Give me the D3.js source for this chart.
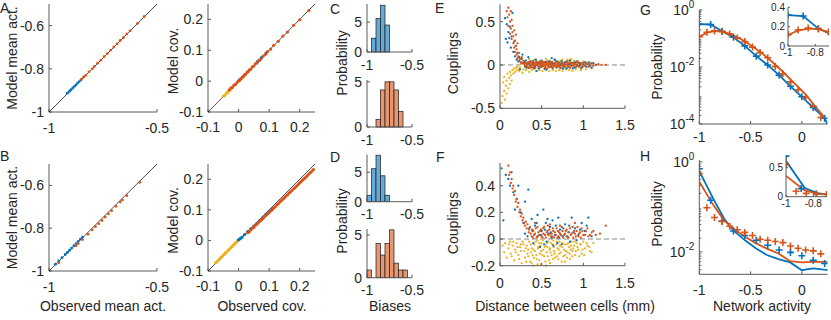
<!DOCTYPE html>
<html>
<head>
<meta charset="UTF-8">
<script src="https://d3js.org/d3.v7.min.js"></script>
<style>
  body { margin: 0; background: #fff; }
  svg text { font-family: 'Liberation Sans', Arial, sans-serif; fill: #262626; }
</style>
</head>
<body>
<svg id="fig" width="831" height="320"></svg>
<script>
const BLUE = "#0072BD", ORANGE = "#D95319", YELLOW = "#EDB120";
const HBLUE = "#66AAD7", HORANGE = "#E8966F";

// ---- A / B: mean activity, [observed, model]
const meanA_blue = [[-0.915,-0.913],[-0.905,-0.904],[-0.898,-0.897],[-0.89,-0.889],[-0.882,-0.881],[-0.875,-0.874],[-0.868,-0.866],[-0.86,-0.859],[-0.852,-0.851]];
const meanA_orange = [[-0.85,-0.849],[-0.84,-0.839],[-0.83,-0.83],[-0.815,-0.814],[-0.8,-0.8],[-0.79,-0.789],[-0.775,-0.774],[-0.76,-0.76],[-0.745,-0.744],[-0.73,-0.73],[-0.715,-0.714],[-0.7,-0.699],[-0.685,-0.685],[-0.67,-0.669],[-0.655,-0.655],[-0.64,-0.639],[-0.625,-0.624],[-0.59,-0.59],[-0.56,-0.559]];
const meanB_blue = [[-0.97,-0.968],[-0.955,-0.953],[-0.94,-0.938],[-0.925,-0.923],[-0.915,-0.913],[-0.905,-0.903],[-0.895,-0.893],[-0.885,-0.882],[-0.875,-0.872],[-0.865,-0.862],[-0.855,-0.851],[-0.845,-0.842]];
const meanB_orange = [[-0.955,-0.962],[-0.875,-0.882],[-0.865,-0.872],[-0.845,-0.853],[-0.82,-0.828],[-0.8,-0.808],[-0.785,-0.793],[-0.77,-0.779],[-0.755,-0.764],[-0.74,-0.748],[-0.725,-0.733],[-0.71,-0.719],[-0.69,-0.698],[-0.67,-0.678],[-0.66,-0.668],[-0.64,-0.648],[-0.58,-0.586]];

// ---- A / B: covariances, [observed, model]
const covA_yellow = [[-0.05,-0.049],[-0.045,-0.046],[-0.04,-0.039],[-0.036,-0.037],[-0.032,-0.031],[-0.028,-0.029],[-0.024,-0.023]];
const covA_blue = [[0.003,0.004],[0.062,0.063],[0.068,0.067],[0.075,0.076],[0.09,0.091]];
const covA_orange = [[-0.03,-0.028],[-0.025,-0.022],[-0.02,-0.021],[-0.015,-0.013],[-0.01,-0.011],[-0.005,-0.004],[0,0.001],[0.003,0.002],[0.006,0.007],[0.01,0.009],[0.013,0.014],[0.016,0.015],[0.02,0.021],[0.024,0.023],[0.028,0.029],[0.032,0.031],[0.036,0.037],[0.04,0.039],[0.045,0.046],[0.05,0.049],[0.055,0.056],[0.06,0.059],[0.066,0.067],[0.072,0.071],[0.08,0.081],[0.088,0.087],[0.095,0.096],[0.105,0.104],[0.115,0.116],[0.13,0.129],[0.145,0.146],[0.16,0.159],[0.18,0.181],[0.2,0.199],[0.23,0.229]];
const covB_yellow = [[-0.075,-0.073],[-0.07,-0.069],[-0.066,-0.064],[-0.062,-0.061],[-0.058,-0.056],[-0.054,-0.053],[-0.05,-0.048],[-0.046,-0.045],[-0.042,-0.04],[-0.038,-0.037],[-0.034,-0.032],[-0.03,-0.029],[-0.026,-0.024],[-0.022,-0.021],[-0.018,-0.016],[-0.014,-0.013],[-0.01,-0.008],[-0.006,-0.005],[-0.002,0]];
const covB_blue = [[0,0.002],[0.004,0.005],[0.008,0.008],[0.012,0.011],[0.02,0.019],[0.03,0.029],[0.04,0.038],[0.05,0.047],[0.06,0.056],[0.07,0.066],[0.08,0.076],[0.09,0.086],[0.1,0.095],[0.11,0.104]];
const covB_orange = [[0.03,0.025],[0.035,0.028],[0.04,0.034],[0.045,0.04],[0.05,0.043],[0.055,0.05],[0.06,0.053],[0.065,0.059],[0.07,0.063],[0.075,0.068],[0.08,0.072],[0.085,0.078],[0.09,0.082],[0.095,0.087],[0.1,0.091],[0.105,0.097],[0.11,0.1],[0.115,0.106],[0.12,0.11],[0.125,0.116],[0.13,0.12],[0.135,0.126],[0.14,0.13],[0.145,0.135],[0.15,0.14],[0.155,0.145],[0.16,0.149],[0.165,0.155],[0.17,0.159],[0.175,0.164],[0.18,0.169],[0.185,0.173],[0.19,0.178],[0.195,0.183],[0.2,0.188],[0.205,0.193],[0.21,0.198],[0.215,0.202],[0.22,0.207],[0.225,0.212],[0.23,0.217],[0.235,0.222],[0.24,0.227],[0.245,0.232]];

// ---- C / D: bias histograms (bin edges, densities)
const histC_blue_edges = [-0.95,-0.9,-0.85,-0.8,-0.75];
const histC_blue = [2.3,5.6,7.8,4.5];
const histC_orange_edges = [-0.9,-0.85,-0.8,-0.75,-0.7,-0.65,-0.6];
const histC_orange = [0.85,4.1,5.0,5.0,4.1,1.7];
const histD_blue_edges = [-1,-0.95,-0.9,-0.85,-0.8,-0.75];
const histD_blue = [1.1,5.6,7.9,4.4,1.1];
const histD_orange_edges = [-1,-0.95,-0.9,-0.85,-0.8,-0.75,-0.7,-0.65,-0.6,-0.55];
const histD_orange = [0.9,0,4.0,2.65,4.0,5.6,1.7,0.9,0.9];

// ---- E / F: couplings vs distance, [distance mm, coupling]
const eBlue = [[0.06,0.54],[0.07,0.3],[0.08,0.47],[0.09,0.26],[0.1,0.38],[0.11,0.31],[0.12,0.44],[0.13,0.2],[0.14,0.33],[0.15,0.6],[0.16,0.15],[0.17,0.27],[0.18,0.1],[0.19,0.22],[0.2,0.06],[0.21,0.14],[0.22,0.04],[0.23,0.09],[0.25,0.03],[0.26,0.07],[0.28,0.02],[0.3,-0.02],[0.31,0.05],[0.33,0.01],[0.35,-0.03],[0.36,0.04],[0.38,0],[0.4,0.03],[0.42,-0.02],[0.43,0.06],[0.45,0.01],[0.47,-0.04],[0.49,0.02],[0.5,0.05],[0.52,-0.01],[0.54,0.03],[0.56,-0.05],[0.57,0.01],[0.59,0.04],[0.61,-0.02],[0.63,0.02],[0.65,-0.01],[0.66,0.06],[0.68,-0.03],[0.7,0.02],[0.72,0],[0.74,0.04],[0.76,-0.02],[0.78,0.03],[0.8,-0.04],[0.82,0.01],[0.84,0.05],[0.86,-0.01],[0.88,0.02],[0.9,-0.03],[0.93,0.04],[0.96,0],[0.99,-0.02],[1.02,0.03],[1.05,0.01],[1.08,-0.01],[1.12,0.02],[0.27,0.12],[0.34,0.09],[0.44,-0.07],[0.62,0.08],[0.24,-0.05]];
const eBlueBand = [[0.295,0.03],[0.32,-0.03],[0.345,0.02],[0.37,-0.01],[0.395,0.045],[0.41,-0.04],[0.435,0],[0.46,0.03],[0.485,-0.02],[0.51,0.01],[0.535,-0.045],[0.555,0.035],[0.58,-0.01],[0.605,0.02],[0.63,-0.035],[0.655,0.01],[0.68,0.04],[0.705,-0.02],[0.73,0.015],[0.755,-0.045],[0.775,0.005],[0.8,0.04],[0.825,-0.025],[0.85,0.015],[0.875,-0.04],[0.9,0.03],[0.925,-0.01],[0.95,0.02],[0.975,-0.035],[1,0.01],[1.035,-0.02],[1.07,0.03],[1.1,-0.03],[1.15,0]];
const eOrange = [[0.08,0.62],[0.09,0.55],[0.1,0.66],[0.1,0.45],[0.11,0.58],[0.12,0.5],[0.12,0.36],[0.13,0.62],[0.13,0.42],[0.14,0.52],[0.14,0.3],[0.15,0.45],[0.15,0.38],[0.16,0.33],[0.16,0.25],[0.17,0.4],[0.17,0.2],[0.18,0.28],[0.18,0.15],[0.19,0.22],[0.19,0.35],[0.2,0.12],[0.2,0.18],[0.21,0.08],[0.21,0.25],[0.22,0.1],[0.23,0.05],[0.23,0.14],[0.24,0.07],[0.25,0.03],[0.26,0.09],[0.27,0.02],[0.28,0.05],[0.29,0.01],[0.3,-0.01],[0.32,0.02],[0.33,-0.02],[0.34,0.03],[0.36,0],[0.37,-0.03],[0.38,0.02],[0.4,0.01],[0.41,-0.01],[0.43,0.03],[0.44,0],[0.46,-0.02],[0.47,0.02],[0.48,0.04],[0.5,-0.01],[0.51,0.01],[0.53,0.03],[0.54,-0.03],[0.55,0],[0.57,0.02],[0.58,-0.01],[0.6,0.01],[0.61,0.03],[0.62,-0.02],[0.64,0],[0.66,0.02],[0.67,-0.01],[0.69,0.01],[0.71,0.03],[0.72,-0.02],[0.74,0],[0.75,0.02],[0.77,-0.01],[0.79,0.01],[0.81,0.03],[0.82,-0.02],[0.84,0],[0.86,0.02],[0.88,-0.01],[0.9,0.01],[0.92,0.03],[0.94,-0.01],[0.97,0.02],[1,0],[1.03,0.01],[1.07,-0.01],[1.1,0.02],[1.15,0],[1.27,0]];
const eOrangeBand = [[0.305,0.025],[0.315,-0.015],[0.325,0.01],[0.345,-0.035],[0.355,0.015],[0.365,0.035],[0.375,-0.005],[0.39,0.03],[0.395,-0.025],[0.405,0.005],[0.415,0.02],[0.425,-0.035],[0.435,0.01],[0.445,0.035],[0.455,-0.01],[0.465,0.015],[0.475,-0.03],[0.485,0.005],[0.495,0.025],[0.505,-0.02],[0.515,0.035],[0.525,-0.005],[0.535,0.015],[0.545,-0.015],[0.56,0.03],[0.565,-0.04],[0.575,0.005],[0.585,0.02],[0.595,-0.025],[0.605,0.01],[0.615,-0.005],[0.625,0.035],[0.635,-0.03],[0.645,0.015],[0.655,-0.01],[0.665,0.03],[0.675,-0.025],[0.685,0.005],[0.695,0.02],[0.705,-0.015],[0.715,0.01],[0.73,-0.035],[0.745,0.025],[0.755,-0.005],[0.765,0.015],[0.78,-0.025],[0.795,0.03],[0.805,0],[0.815,-0.015],[0.83,0.02],[0.845,-0.03],[0.855,0.01],[0.87,0.025],[0.885,-0.01],[0.895,0.015],[0.91,-0.025],[0.925,0.005],[0.94,0.03],[0.955,-0.015],[0.97,0.01],[0.985,-0.03],[1,0.025],[1.02,-0.01],[1.04,0.015],[1.06,-0.02],[1.08,0.01],[1.12,-0.01],[1.18,0.01],[1.22,0]];
const eYellow = [[0.02,-0.44],[0.03,-0.36],[0.04,-0.2],[0.05,-0.3],[0.05,-0.14],[0.06,-0.4],[0.07,-0.24],[0.08,-0.18],[0.08,-0.33],[0.09,-0.1],[0.1,-0.27],[0.11,-0.15],[0.12,-0.22],[0.12,-0.08],[0.13,-0.12],[0.14,-0.18],[0.15,-0.06],[0.16,-0.1],[0.17,-0.04],[0.18,-0.08],[0.19,-0.03],[0.2,-0.06],[0.21,-0.02],[0.22,-0.05],[0.24,-0.03],[0.26,0.02],[0.28,-0.05],[0.3,0],[0.32,-0.04],[0.34,0.03],[0.36,-0.02],[0.38,-0.06],[0.4,0.01],[0.42,-0.03],[0.44,0.04],[0.46,-0.05],[0.48,0],[0.5,-0.02],[0.52,0.03],[0.54,-0.04],[0.56,0.01],[0.58,-0.03],[0.6,0.05],[0.62,-0.01],[0.64,-0.05],[0.66,0.02],[0.68,-0.02],[0.7,0.04],[0.72,-0.04],[0.74,0.01],[0.76,-0.03],[0.78,0.03],[0.8,-0.01],[0.82,0.05],[0.84,-0.04],[0.86,0],[0.88,0.03],[0.9,-0.02],[0.92,0.04],[0.95,-0.03],[0.98,0.02],[1.01,-0.01],[1.04,0.03],[1.08,-0.02],[1.12,0.01],[0.35,0.07],[0.55,0.07],[0.75,0.06],[0.85,0.07]];
const eYellowBand = [[0.23,-0.07],[0.25,0.01],[0.27,-0.09],[0.29,0.04],[0.31,-0.06],[0.33,0],[0.35,-0.08],[0.37,0.04],[0.39,-0.05],[0.41,0.06],[0.43,-0.07],[0.45,0.02],[0.47,-0.06],[0.49,0.05],[0.51,-0.07],[0.53,0],[0.55,-0.06],[0.57,0.05],[0.59,-0.07],[0.61,0.02],[0.63,-0.06],[0.65,0.06],[0.67,-0.07],[0.69,0],[0.71,-0.06],[0.73,0.05],[0.75,-0.07],[0.77,0.02],[0.79,-0.05],[0.81,0.06],[0.83,-0.06],[0.85,0.03],[0.87,-0.07],[0.89,0.05],[0.91,-0.05],[0.93,0.01],[0.97,-0.06],[1,0.04],[1.03,-0.05],[1.06,0.02],[1.1,-0.04]];
const fBlue = [[0.02,0.53],[0.07,0.48],[0.04,0.14],[0.1,0.45],[0.12,0.4],[0.14,0.5],[0.16,0.35],[0.2,0.3],[0.22,0.4],[0.25,0.2],[0.3,0.28],[0.34,0.37],[0.38,0.15],[0.42,0.1],[0.45,0.18],[0.5,0.06],[0.52,0.22],[0.55,0.12],[0.58,0.04],[0.6,0.09],[0.63,0.14],[0.66,0.03],[0.7,0.16],[0.72,0.07],[0.75,0.02],[0.78,0.11],[0.82,0.05],[0.86,0.16],[0.9,0.08],[0.94,0.03],[0.98,0.12],[1.02,0.06],[1.06,0.16],[1.1,0.02],[0.4,-0.03],[0.48,-0.06],[0.56,-0.02],[0.64,-0.05],[0.74,-0.04],[0.84,-0.02],[0.3,0.04],[0.35,0.08],[0.45,0.02],[0.62,0.01],[0.8,0.02],[0.92,-0.01],[0.28,0.12],[0.18,0.22],[0.33,0.02],[0.39,0.06],[0.44,0.12],[0.49,0.03],[0.54,0.07],[0.57,0.15],[0.61,0.05],[0.67,0.1],[0.71,0.01],[0.76,0.08],[0.83,0.1],[0.88,0.05],[0.96,0.07],[1.04,0.1],[0.53,-0.04],[0.69,-0.03]];
const fOrange = [[0.1,0.55],[0.11,0.48],[0.12,0.5],[0.13,0.42],[0.14,0.45],[0.15,0.38],[0.16,0.4],[0.17,0.33],[0.18,0.36],[0.19,0.28],[0.2,0.3],[0.21,0.24],[0.22,0.27],[0.23,0.2],[0.24,0.22],[0.25,0.17],[0.26,0.19],[0.27,0.14],[0.28,0.16],[0.29,0.12],[0.3,0.1],[0.31,0.13],[0.32,0.08],[0.33,0.11],[0.35,0.07],[0.36,0.09],[0.37,0.04],[0.38,0.02],[0.4,0.06],[0.41,0.03],[0.43,0.08],[0.44,0.01],[0.46,0.05],[0.47,0.03],[0.49,0.07],[0.5,0.02],[0.52,0.04],[0.53,0.09],[0.55,0.01],[0.56,0.05],[0.58,0.03],[0.59,0.07],[0.61,0.02],[0.62,0.04],[0.64,0.06],[0.65,0.01],[0.67,0.03],[0.68,0.08],[0.7,0.02],[0.71,0.05],[0.73,0.03],[0.75,0.06],[0.76,0.01],[0.78,0.04],[0.8,0.07],[0.81,0.02],[0.83,0.05],[0.85,0.03],[0.87,0.09],[0.88,0.01],[0.9,0.04],[0.92,0.06],[0.94,0.02],[0.96,0.05],[0.98,0.08],[1,0.03],[1.03,0.06],[1.06,0.02],[1.1,0.05],[1.15,0.03],[1.27,0.1],[0.42,0.12],[0.6,0.11],[0.72,0.1],[0.9,0.12]];
const fOrangeBand = [[0.345,0.05],[0.385,0.07],[0.395,0.01],[0.42,0.04],[0.45,0.09],[0.455,0.02],[0.48,0.06],[0.51,0.01],[0.515,0.08],[0.54,0.03],[0.57,0.06],[0.575,0.1],[0.6,0.04],[0.63,0.02],[0.635,0.08],[0.66,0.05],[0.69,0.01],[0.695,0.06],[0.72,0.04],[0.74,0.09],[0.77,0.03],[0.79,0.06],[0.82,0.01],[0.84,0.08],[0.86,0.04],[0.89,0.06],[0.91,0.02],[0.93,0.09],[0.95,0.04],[0.97,0.01],[0.99,0.06],[1.02,0.03],[1.05,0.08],[1.08,0.03],[1.12,0.06],[1.2,0.04]];
const fYellow = [[0.03,-0.05],[0.05,-0.1],[0.06,-0.03],[0.08,-0.14],[0.1,-0.07],[0.12,-0.02],[0.13,-0.11],[0.15,-0.05],[0.17,-0.16],[0.18,-0.08],[0.2,-0.03],[0.22,-0.12],[0.24,-0.06],[0.26,-0.18],[0.27,-0.02],[0.29,-0.09],[0.3,-0.14],[0.32,-0.05],[0.33,-0.11],[0.35,-0.02],[0.36,-0.17],[0.38,-0.07],[0.39,-0.12],[0.41,-0.04],[0.42,-0.09],[0.44,-0.15],[0.45,-0.01],[0.46,-0.06],[0.48,-0.11],[0.49,-0.19],[0.5,-0.03],[0.52,-0.08],[0.53,-0.13],[0.55,-0.05],[0.56,-0.1],[0.58,-0.02],[0.59,-0.16],[0.6,-0.07],[0.62,-0.12],[0.63,-0.04],[0.65,-0.09],[0.66,-0.14],[0.68,-0.02],[0.69,-0.07],[0.71,-0.11],[0.72,-0.05],[0.74,-0.17],[0.75,-0.03],[0.77,-0.08],[0.78,-0.12],[0.8,-0.04],[0.81,-0.1],[0.83,-0.06],[0.84,-0.15],[0.86,-0.02],[0.87,-0.09],[0.89,-0.05],[0.9,-0.12],[0.92,-0.03],[0.94,-0.08],[0.96,-0.04],[0.98,-0.11],[1,-0.02],[1.02,-0.07],[1.05,-0.05],[1.08,-0.09],[1.12,-0.03],[0.4,-0.2],[0.55,-0.2],[0.25,-0.04],[0.47,-0.03],[0.64,-0.01],[0.7,-0.15],[0.85,-0.08],[0.34,-0.08],[0.57,-0.06]];
const fYellowBand = [[0.11,-0.04],[0.14,-0.13],[0.16,-0.02],[0.19,-0.1],[0.21,-0.06],[0.23,-0.15],[0.25,-0.09],[0.28,-0.04],[0.31,-0.07],[0.315,-0.17],[0.34,-0.13],[0.37,-0.04],[0.375,-0.1],[0.4,-0.08],[0.405,-0.14],[0.43,-0.02],[0.435,-0.12],[0.455,-0.07],[0.47,-0.16],[0.485,-0.05],[0.495,-0.09],[0.51,-0.12],[0.515,-0.01],[0.535,-0.06],[0.545,-0.17],[0.565,-0.03],[0.575,-0.13],[0.595,-0.08],[0.605,-0.1],[0.615,-0.03],[0.635,-0.15],[0.645,-0.06],[0.655,-0.11],[0.675,-0.04],[0.685,-0.13],[0.705,-0.08],[0.715,-0.02],[0.73,-0.1],[0.745,-0.06],[0.76,-0.13],[0.775,-0.04],[0.79,-0.09],[0.805,-0.14],[0.82,-0.03],[0.835,-0.11],[0.85,-0.05],[0.865,-0.13],[0.88,-0.07],[0.895,-0.02],[0.91,-0.09],[0.93,-0.06],[0.95,-0.13],[0.97,-0.04],[0.99,-0.08],[1.01,-0.12],[1.04,-0.03],[1.07,-0.06],[1.1,-0.1],[0.6,-0.18],[0.45,-0.19],[0.38,-0.18],[0.78,-0.17]];

// ---- G / H: network activity distributions
const actBlue = [-1,-0.889,-0.778,-0.667,-0.556,-0.444,-0.333,-0.222,-0.111,0,0.111,0.222];
const actOrange = [-1,-0.926,-0.852,-0.778,-0.704,-0.63,-0.556,-0.481,-0.407,-0.333,-0.259,-0.185,-0.111,-0.037,0.037,0.111,0.185];
const gDataBlue = [0.32,0.31,0.18,0.11,0.055,0.024,0.0118,0.0052,0.0021,0.0009,0.00038,0.00016];
const gDataOrange = [0.115,0.165,0.185,0.175,0.145,0.105,0.078,0.05,0.032,0.021,0.0105,0.0058,0.003,0.0016,0.00085,0.00042,0.00017];
const gModelBlueX = [-1,-0.889,-0.778,-0.667,-0.556,-0.444,-0.333,-0.222,-0.111,0,0.111,0.222,0.26];
const gModelBlue = [0.32,0.31,0.18,0.11,0.055,0.024,0.0118,0.0052,0.0021,0.0009,0.00038,0.00016,0.00008];
const gModelOrangeX = [-1,-0.926,-0.852,-0.778,-0.704,-0.63,-0.556,-0.481,-0.407,-0.333,-0.259,-0.185,-0.111,-0.037,0.037,0.111,0.185,0.23];
const gModelOrange = [0.115,0.16,0.18,0.175,0.145,0.11,0.08,0.052,0.034,0.021,0.012,0.0068,0.0037,0.002,0.0011,0.0005,0.00024,0.00015];
const hDataBlue = [0.7,0.14,0.048,0.029,0.023,0.018,0.014,0.011,0.0097,0.0082,0.0065,0.0055];
const hDataOrange = [0.55,0.095,0.058,0.047,0.037,0.031,0.027,0.023,0.019,0.018,0.017,0.016,0.0135,0.012,0.011,0.0105,0.009];
const hModelBlueX = [-1,-0.863,-0.759,-0.668,-0.554,-0.446,-0.342,-0.228,-0.114,0,0.06,0.114,0.26];
const hModelBlue = [0.62,0.15,0.055,0.03,0.018,0.0118,0.0085,0.0069,0.0058,0.0039,0.0041,0.0043,0.0039];
const hModelOrangeX = [-1,-0.863,-0.759,-0.668,-0.554,-0.446,-0.342,-0.228,-0.114,0,0.114,0.26];
const hModelOrange = [0.36,0.109,0.05,0.033,0.0215,0.0154,0.0118,0.0092,0.0062,0.0058,0.006,0.006];

const fig = d3.select("#fig");
const AX = "#5a5a5a";
let clipId = 0;

// left + bottom axes, inward ticks, labels
function frame(x, y, o) {
  const g = fig.append("g");
  const [x0, x1] = x.range(), [y0, y1] = y.range();
  const fs = o.fs || 14, tl = o.tl || 3;
  g.append("line").attr("x1", x0).attr("x2", x1).attr("y1", y0).attr("y2", y0).attr("stroke", AX);
  g.append("line").attr("x1", x0).attr("x2", x0).attr("y1", y0).attr("y2", y1).attr("stroke", AX);
  (o.xTicks || []).forEach(t => {
    g.append("line").attr("x1", x(t)).attr("x2", x(t)).attr("y1", y0).attr("y2", y0 - tl).attr("stroke", AX);
    g.append("text").attr("x", x(t)).attr("y", y0 + (o.xOff || 19)).attr("text-anchor", "middle")
      .attr("font-size", fs).text(o.xFmt ? o.xFmt(t) : t);
  });
  (o.yTicks || []).forEach(t => {
    g.append("line").attr("x1", x0).attr("x2", x0 + tl).attr("y1", y(t)).attr("y2", y(t)).attr("stroke", AX);
    const tx = g.append("text").attr("x", x0 - (o.yOff || 5)).attr("y", y(t)).attr("dy", "0.35em")
      .attr("text-anchor", "end").attr("font-size", fs);
    if (o.yLog) {
      tx.text("10");
      tx.append("tspan").attr("dy", -7).attr("font-size", 10).text(Math.round(Math.log10(t)));
    } else tx.text(o.yFmt ? o.yFmt(t) : t);
  });
  (o.yMinor || []).forEach(t => {
    g.append("line").attr("x1", x0).attr("x2", x0 + 2).attr("y1", y(t)).attr("y2", y(t)).attr("stroke", AX);
  });
  return g;
}

function clip(x, y) {
  const id = "c" + (clipId++);
  const [x0, x1] = x.range(), [y0, y1] = y.range();
  fig.append("clipPath").attr("id", id).append("rect")
    .attr("x", x0).attr("y", y1).attr("width", x1 - x0).attr("height", y0 - y1);
  return "url(#" + id + ")";
}

function dots(x, y, data, color, r) {
  fig.append("g").selectAll("circle").data(data).join("circle")
    .attr("cx", d => x(d[0])).attr("cy", d => y(d[1])).attr("r", r).attr("fill", color);
}

function ylabel(txt, bx, cy) {
  fig.append("text").attr("transform", `translate(${bx},${cy}) rotate(-90)`)
    .attr("text-anchor", "middle").attr("font-size", 14).text(txt);
}
function xlabel(txt, cx, by) {
  fig.append("text").attr("x", cx).attr("y", by).attr("text-anchor", "middle").attr("font-size", 14).text(txt);
}
function letter(t, x, y) {
  fig.append("text").attr("x", x).attr("y", y).attr("font-size", 14).text(t);
}

// ---------- mean activity ----------
function meanPanel(yr, blue, orange) {
  const x = d3.scaleLinear().domain([-1, -0.5]).range([49, 157]);
  const y = d3.scaleLinear().domain([-1, -0.5]).range(yr);
  frame(x, y, { xTicks: [-1, -0.5], yTicks: [-1, -0.8, -0.6], xOff: 21 });
  fig.append("line").attr("x1", x(-1)).attr("y1", y(-1)).attr("x2", x(-0.5)).attr("y2", y(-0.5))
    .attr("stroke", "#000").attr("stroke-width", 0.7);
  dots(x, y, blue, BLUE, 1.4);
  dots(x, y, orange, ORANGE, 1.4);
  ylabel("Model mean act.", 17, (yr[0] + yr[1]) / 2);
}
meanPanel([112, 4], meanA_blue, meanA_orange);
meanPanel([271, 164], meanB_blue, meanB_orange);
xlabel("Observed mean act.", 103, 311);

// ---------- covariances ----------
function covPanel(yr, yellow, blue, orange) {
  const x = d3.scaleLinear().domain([-0.1, 0.25]).range([208, 315]);
  const y = d3.scaleLinear().domain([-0.1, 0.25]).range(yr);
  frame(x, y, { xTicks: [-0.1, 0, 0.1, 0.2], yTicks: [-0.1, 0, 0.1, 0.2], xOff: 20 });
  fig.append("line").attr("x1", x(-0.1)).attr("y1", y(-0.1)).attr("x2", x(0.25)).attr("y2", y(0.25))
    .attr("stroke", "#000").attr("stroke-width", 0.7);
  dots(x, y, yellow, YELLOW, 1.6);
  dots(x, y, blue, BLUE, 1.6);
  dots(x, y, orange, ORANGE, 1.6);
  ylabel("Model cov.", 178, (yr[0] + yr[1]) / 2 + 3);
}
covPanel([112, 4], covA_yellow, covA_blue, covA_orange);
covPanel([271, 164], covB_yellow, covB_blue, covB_orange);
xlabel("Observed cov.", 262, 311);

// ---------- histograms ----------
function hist(yr, ymax, edges, heights, fill, yTicks, xOff) {
  const x = d3.scaleLinear().domain([-1, -0.5]).range([367, 412]);
  const y = d3.scaleLinear().domain([0, ymax]).range(yr);
  fig.append("g").selectAll("rect").data(heights).join("rect")
    .attr("x", (d, i) => x(edges[i])).attr("width", (d, i) => x(edges[i + 1]) - x(edges[i]))
    .attr("y", d => y(d)).attr("height", d => y(0) - y(d))
    .attr("fill", fill).attr("stroke", d => d > 0 ? "#1a1a1a" : "none").attr("stroke-width", 0.7);
  frame(x, y, { xTicks: [-1, -0.5], yTicks: yTicks, xOff: xOff });
}
hist([52, 4], 8, histC_blue_edges, histC_blue, HBLUE, [0, 5], 18);
hist([127, 80], 5.2, histC_orange_edges, histC_orange, HORANGE, [0, 5], 18);
hist([201.7, 154.6], 8, histD_blue_edges, histD_blue, HBLUE, [0, 5], 17);
hist([277.7, 229], 5.7, histD_orange_edges, histD_orange, HORANGE, [0, 5], 17);
ylabel("Probability", 347, 63);
ylabel("Probability", 347, 221);
xlabel("Biases", 390, 311);

// ---------- couplings ----------
function coupPanel(yr, ydom, yTicks, yellow, blue, orange, xOff) {
  const x = d3.scaleLinear().domain([0, 1.5]).range([500, 625]);
  const y = d3.scaleLinear().domain(ydom).range(yr);
  fig.append("line").attr("x1", x(0)).attr("x2", x(1.5)).attr("y1", y(0)).attr("y2", y(0))
    .attr("stroke", "#888").attr("stroke-dasharray", "5,3");
  dots(x, y, yellow, YELLOW, 1.15);
  dots(x, y, blue, BLUE, 1.15);
  dots(x, y, orange, ORANGE, 1.15);
  frame(x, y, { xTicks: [0, 0.5, 1, 1.5], yTicks: yTicks, xOff: xOff });
}
coupPanel([108.3, 4.3], [-0.5, 0.7], [-0.5, 0, 0.5],
  eYellow.concat(eYellowBand), eBlue.concat(eBlueBand), eOrange.concat(eOrangeBand), 22);
coupPanel([265.7, 163], [-0.2, 0.57], [-0.2, 0, 0.2, 0.4],
  fYellow.concat(fYellowBand), fBlue, fOrange.concat(fOrangeBand), 22);
ylabel("Couplings", 458, 63);
ylabel("Couplings", 458, 223);
xlabel("Distance between cells (mm)", 565, 311);

// ---------- activity distributions ----------
const plus = "M-3.5,0H3.5M0,-3.5V3.5";
function curves(x, y, cp, sets) {
  const line = d3.line().x(d => x(d[0])).y(d => y(d[1]));
  const g = fig.append("g").attr("clip-path", cp);
  sets.forEach(s => {
    g.append("path").attr("d", line(d3.zip(s.mx, s.my))).attr("fill", "none")
      .attr("stroke", s.c).attr("stroke-width", 1.8);
  });
  sets.forEach(s => {
    g.append("g").selectAll("path").data(d3.zip(s.dx, s.dy)).join("path")
      .attr("d", plus).attr("transform", d => `translate(${x(d[0])},${y(d[1])})`)
      .attr("stroke", s.c).attr("stroke-width", 1.6).attr("fill", "none");
  });
}
function minorTicks(lo, hi) {
  const out = [];
  for (let e = lo; e < hi; e++) for (let k = 2; k <= 9; k++) out.push(k * Math.pow(10, e));
  return out;
}
function actPanel(yr, ydom, yTicks, minorLo, sets, inset, xOff) {
  const x = d3.scaleLinear().domain([-1, 0.25]).range([699.3, 827.5]);
  const y = d3.scaleLog().domain(ydom).range(yr);
  curves(x, y, clip(x, y), sets);
  frame(x, y, { xTicks: [-1, -0.5, 0], yTicks: yTicks, yLog: true,
    yMinor: minorTicks(minorLo, 0).filter(v => v >= ydom[0] && v <= ydom[1]), xOff: xOff });
  // inset, linear scale
  const xi = d3.scaleLinear().domain([-1, -0.7]).range(inset.xr);
  const yi = d3.scaleLinear().domain(inset.ydom).range(inset.yr);
  fig.append("rect").attr("x", inset.xr[0]).attr("y", inset.yr[1])
    .attr("width", inset.xr[1] - inset.xr[0]).attr("height", inset.yr[0] - inset.yr[1]).attr("fill", "#fff");
  curves(xi, yi, clip(xi, yi), sets);
  frame(xi, yi, { xTicks: [-1, -0.8], yTicks: inset.yTicks, fs: 10, tl: 2, xOff: 10, yOff: 3 });
}
const gSets = [
  { c: BLUE, mx: gModelBlueX, my: gModelBlue, dx: actBlue, dy: gDataBlue },
  { c: ORANGE, mx: gModelOrangeX, my: gModelOrange, dx: actOrange, dy: gDataOrange }
];
const hSets = [
  { c: BLUE, mx: hModelBlueX, my: hModelBlue, dx: actBlue, dy: hDataBlue },
  { c: ORANGE, mx: hModelOrangeX, my: hModelOrange, dx: actOrange, dy: hDataOrange }
];
actPanel([124, 10], [1e-4, 1], [1e-4, 1e-2, 1], -4, gSets,
  { xr: [788, 829], yr: [46, 7.3], ydom: [0, 0.4], yTicks: [0, 0.2, 0.4] }, 18);
actPanel([274.3, 160], [Math.pow(10, -2.5), Math.pow(10, 0.04)], [1e-2, 1], -3, hSets,
  { xr: [786, 827], yr: [196.7, 155], ydom: [0, 0.72], yTicks: [0, 0.5] }, 21);
ylabel("Probability", 662, 67);
ylabel("Probability", 662, 214);
xlabel("Network activity", 762, 311);

letter("A", 0, 13); letter("B", 0, 161);
letter("C", 330, 14); letter("D", 330, 162);
letter("E", 435, 13); letter("F", 436, 162);
letter("G", 640, 15); letter("H", 640, 161);
</script>
</body>
</html>
